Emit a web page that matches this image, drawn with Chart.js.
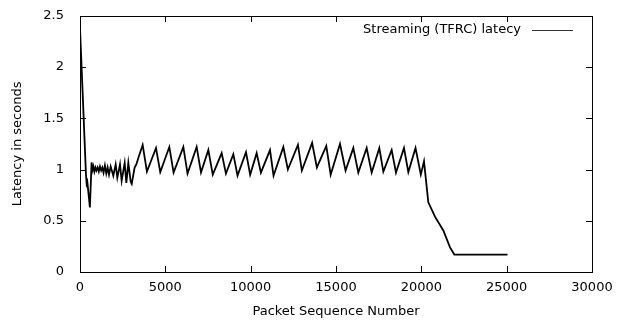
<!DOCTYPE html>
<html>
<head>
<meta charset="utf-8">
<script src="https://cdn.jsdelivr.net/npm/chart.js@4.4.1/dist/chart.umd.min.js"></script>
<style>
    html, body { margin: 0; padding: 0; background: #fff; }
    #wrap { width: 626px; height: 322px; }
</style>
</head>
<body>
<div id="wrap"><canvas id="latencyChart" width="626" height="322"></canvas></div>
<script>
// datos
const seqNumbers = [
    0, 350, 390, 430, 580, 680, 720, 780, 840, 900, 960, 1030, 1100, 1170, 1240, 1310,
    1380, 1460, 1540, 1620, 1700, 1797, 1953, 2090, 2187, 2344, 2441, 2617, 2715, 2832,
    2969, 3030, 3200, 3300, 3450, 3672,
    3922, 4453, 4703, 5234, 5484, 6055, 6300, 6836, 7090, 7520, 7780, 8301, 8550, 8984,
    9230, 9726, 9970, 10351, 10600, 11133, 11340, 11914, 12180, 12770, 13000, 13600,
    13880, 14430, 14687, 15234, 15560, 16015, 16308, 16797, 17090, 17539, 17773, 18262,
    18515, 18984, 19238, 19660, 19970, 20156,
    20410, 20800, 21289, 21680, 21934, 25050
];
const latency = [
    2.38, 0.95, 0.86, 0.88, 0.63, 1.07, 0.99, 1.03, 0.98, 1.02, 0.99, 1.02, 0.98, 1.03, 0.99, 1.02,
    0.97, 1.04, 0.96, 1.02, 0.95, 1.03, 0.94, 1.05, 0.92, 1.05, 0.89, 1.065, 0.87, 1.065,
    0.88, 0.86, 1.02, 1.05, 1.13, 1.24,
    0.98, 1.21, 0.975, 1.22, 0.97, 1.22, 0.96, 1.22, 0.97, 1.19, 0.95, 1.16, 0.96, 1.15,
    0.94, 1.17, 0.95, 1.16, 0.97, 1.19, 0.94, 1.22, 1.00, 1.24, 0.99, 1.26,
    1.02, 1.23, 0.95, 1.25, 0.99, 1.21, 0.97, 1.21, 0.97, 1.21, 0.98, 1.19,
    0.97, 1.21, 0.975, 1.21, 0.95, 1.08,
    0.68, 0.54, 0.405, 0.24, 0.17, 0.17
];
const xTicks = [0, 5000, 10000, 15000, 20000, 25000, 30000];
const yTicks = [0, 0.5, 1, 1.5, 2, 2.5];
const serieLabel = "Streaming (TFRC) latecy";

const fuente = "DejaVu Sans";
const puntos = seqNumbers.map((x, i) => ({ x: x, y: latency[i] }));

// marco y ticks hacia adentro, estilo gnuplot
const marcoGnuplot = {
    id: "marcoGnuplot",
    afterDatasetsDraw(chart) {
        const g = chart.ctx;
        const a = chart.chartArea;
        const sx = chart.scales.x;
        const sy = chart.scales.y;
        const largo = 6;
        const L = Math.round(a.left), R = Math.round(a.right);
        const T = Math.round(a.top), B = Math.round(a.bottom);
        g.save();
        g.fillStyle = "#000";
        // marco
        g.fillRect(L, T, R - L + 1, 1);
        g.fillRect(L, B, R - L + 1, 1);
        g.fillRect(L, T, 1, B - T + 1);
        g.fillRect(R, T, 1, B - T + 1);
        // ticks
        xTicks.forEach(v => {
            const px = Math.round(sx.getPixelForValue(v));
            g.fillRect(px, B - largo, 1, largo);
            g.fillRect(px, T, 1, largo);
        });
        yTicks.forEach(v => {
            const py = Math.round(sy.getPixelForValue(v));
            g.fillRect(L, py, largo, 1);
            g.fillRect(R - largo, py, largo, 1);
        });

        // leyenda: texto y luego la muestra de línea
        const ly = T + 14;
        g.font = "13px " + fuente;
        g.textAlign = "right";
        g.textBaseline = "middle";
        g.fillText(serieLabel, R - 71, ly);
        g.fillStyle = "#333";
        g.fillRect(R - 60, ly, 41, 1);
        g.restore();
    }
};

const ctx = document.getElementById("latencyChart").getContext("2d");
new Chart(ctx, {
    type: "line",
    data: {
        datasets: [{
            label: serieLabel,
            data: puntos,
            borderColor: "#000",
            borderWidth: 1.8,
            pointRadius: 0,
            tension: 0,
            fill: false
        }]
    },
    options: {
        responsive: false,
        animation: false,
        devicePixelRatio: 1,
        layout: { padding: { top: 13, right: 34, left: 0, bottom: 0 } },
        plugins: {
            legend: { display: false },
            tooltip: { enabled: false }
        },
        scales: {
            x: {
                type: "linear",
                min: 0,
                max: 30000,
                afterBuildTicks: s => { s.ticks = xTicks.map(v => ({ value: v })); },
                afterFit: s => { s.height = 50; },
                grid: { display: false },
                border: { display: false },
                ticks: {
                    color: "#000",
                    padding: 0,
                    maxRotation: 0,
                    font: { family: fuente, size: 13 },
                    callback: v => String(v)
                },
                title: {
                    display: true,
                    text: "Packet Sequence Number",
                    color: "#000",
                    padding: { top: 0, bottom: 3 },
                    font: { family: fuente, size: 13 }
                }
            },
            y: {
                min: 0,
                max: 2.5,
                afterBuildTicks: s => { s.ticks = yTicks.map(v => ({ value: v })); },
                afterFit: s => { s.width = 80; },
                grid: { display: false },
                border: { display: false },
                ticks: {
                    color: "#000",
                    padding: 8,
                    font: { family: fuente, size: 13 },
                    callback: v => String(v)
                },
                title: {
                    display: true,
                    text: "Latency in seconds",
                    color: "#000",
                    padding: { top: 10, bottom: 0 },
                    font: { family: fuente, size: 13 }
                }
            }
        }
    },
    plugins: [marcoGnuplot]
});
</script>
</body>
</html>
